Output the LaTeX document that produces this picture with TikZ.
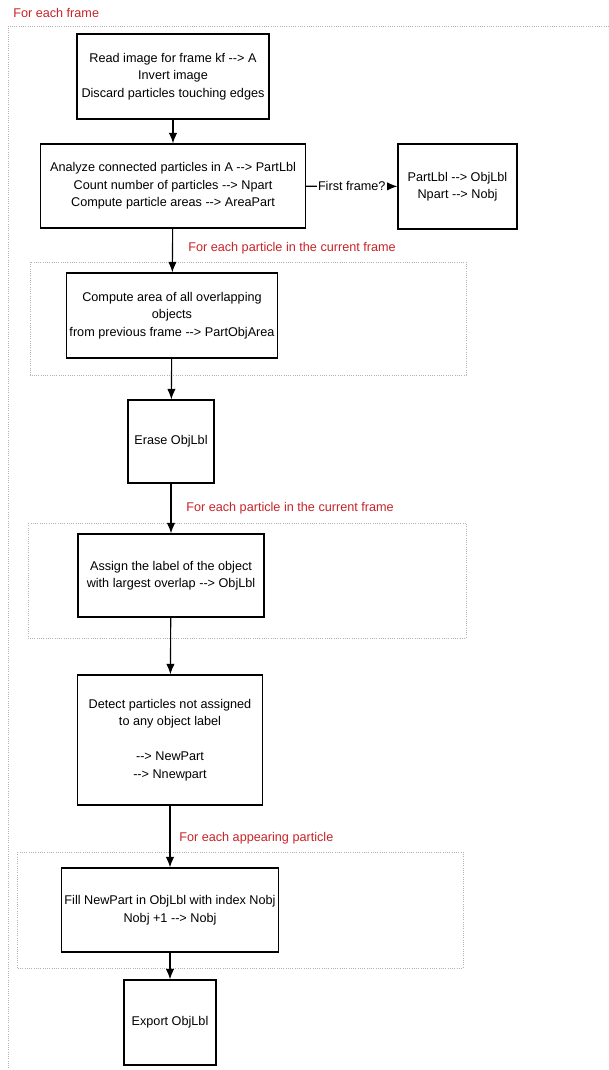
\documentclass[tikz,border=0pt]{standalone}
\usepackage{fontspec}
\setmainfont{Liberation Sans}
\usepackage{tikz}
\usetikzlibrary{arrows.meta}
\definecolor{loopred}{RGB}{200,35,40}
\newcommand{\arr}{-{}->}
\tikzset{box/.style={draw,line width=0.9pt,rectangle,align=center,inner sep=2pt,font=\fontsize{9}{12.4}\selectfont},
flow/.style={line width=0.8pt,-{Latex[length=7.5pt,width=6pt]}},
loopframe/.style={gray!60,densely dotted,line width=0.6pt},
looplabel/.style={text=loopred,anchor=west,inner sep=0pt,font=\fontsize{9}{11}\selectfont}}

\begin{document}
\begin{tikzpicture}[x=0.025cm,y=-0.025cm]
\useasboundingbox (0,0) rectangle (609,1070);
\draw[loopframe] (609,26) -- (8,26) -- (8,1070); \draw[loopframe] (30,262) rectangle (466,375); \draw[loopframe] (28,523) rectangle (466,638); \draw[loopframe] (17,852) rectangle (463,968);
\node[looplabel] (lframe) at (13,13) {For each frame};
\node[looplabel] (lpart1) at (188,248) {For each particle in the current frame};
\node[looplabel] (lpart2) at (186,508) {For each particle in the current frame};
\node[looplabel] (lnew) at (179,838) {For each appearing particle};

\node[box,minimum width=4.8cm,minimum height=2.125cm] at (173,76.5) (read) {Read image for frame kf \arr{} A\\Invert image\\Discard particles touching edges};
\node[box,minimum width=6.625cm,minimum height=2.1cm] at (173,186) (analyze) {Analyze connected particles in A \arr{} PartLbl\\Count number of particles \arr{} Npart\\Compute particle areas \arr{} AreaPart};
\node[box,minimum width=2.975cm,minimum height=2.125cm] at (457.5,186.5) (first) {PartLbl \arr{} ObjLbl\\Npart \arr{} Nobj};
\node[box,minimum width=5.275cm,minimum height=2.125cm] at (172,315.5) (overlap) {Compute area of all overlapping\\objects\\from previous frame \arr{} PartObjArea};
\node[box,minimum width=2.15cm,minimum height=2.075cm] at (171,441.5) (erase) {Erase ObjLbl};
\node[box,minimum width=4.65cm,minimum height=2.075cm] at (171,575.5) (assign) {Assign the label of the object\\with largest overlap \arr{} ObjLbl};
\node[box,minimum width=4.625cm,minimum height=3.25cm] at (170,740) (detect) {Detect particles not assigned\\to any object label\\[12.4pt]\arr{} NewPart\\\arr{} Nnewpart};
\node[box,minimum width=5.375cm,minimum height=2.1cm] at (170,910) (fill) {Fill NewPart in ObjLbl with index Nobj\\Nobj +1 \arr{} Nobj};
\node[box,minimum width=2.3cm,minimum height=2.125cm] at (170,1022.5) (export) {Export ObjLbl};

\draw[flow] (read) -- (analyze);
\draw[flow] (analyze) -- node[fill=white,inner sep=1pt,font=\fontsize{9}{11}\selectfont] (ask) {First frame?} (first);
\draw[flow] (analyze) -- (overlap);
\draw[flow] (overlap) -- (erase);
\draw[flow] (erase) -- (assign);
\draw[flow] (assign) -- (detect);
\draw[flow] (detect) -- (fill);
\draw[flow] (fill) -- (export);
\end{tikzpicture}
\end{document}
